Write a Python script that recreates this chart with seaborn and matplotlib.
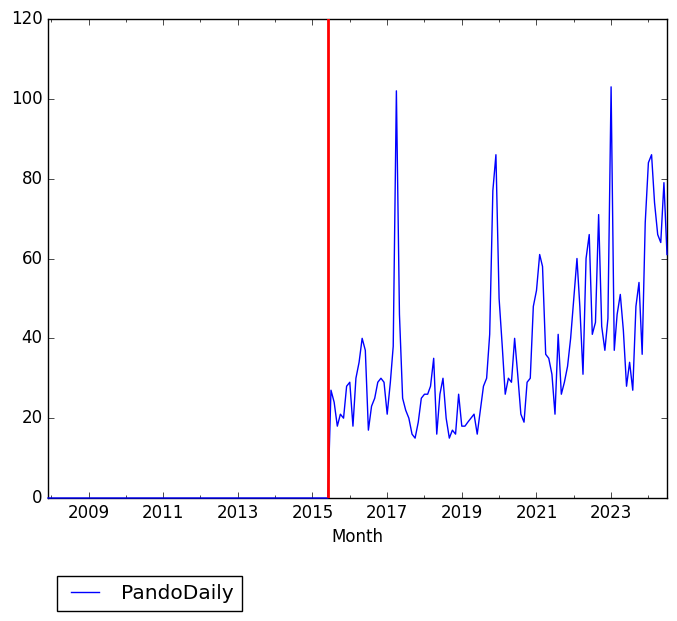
import matplotlib
matplotlib.use("Agg")
import matplotlib.pyplot as plt
import matplotlib.dates as mdates
import numpy as np
import pandas as pd
import seaborn as sns

plt.style.use("classic")

# ---- data ----
start_month = "2007-12-01"
first_active_month = "2015-07-01"
event_month = "2015-06-01"
series_name = "PandoDaily"

values_2015 = [27, 24, 18, 21, 20, 28]
values_2016 = [29, 18, 30, 34, 40, 37, 17, 23, 25, 29, 30, 29]
values_2017 = [21, 29, 38, 102, 46, 25, 22, 20, 16, 15, 19, 25]
values_2018 = [26, 26, 28, 35, 16, 26, 30, 20, 15, 17, 16, 26]
values_2019 = [18, 18, 19, 20, 21, 16, 22, 28, 30, 41, 77, 86]
values_2020 = [50, 38, 26, 30, 29, 40, 31, 21, 19, 29, 30, 48]
values_2021 = [52, 61, 58, 36, 35, 31, 21, 41, 26, 29, 33, 40]
values_2022 = [50, 60, 48, 31, 60, 66, 41, 44, 71, 43, 37, 45]
values_2023 = [103, 37, 46, 51, 42, 28, 34, 27, 48, 54, 36, 69]
values_2024 = [84, 86, 74, 66, 64, 79, 61]

major_years = [2009, 2011, 2013, 2015, 2017, 2019, 2021, 2023]
minor_years = list(range(2008, 2025))
y_ticks = [0, 20, 40, 60, 80, 100, 120]

# ---- build frame ----
active = (values_2015 + values_2016 + values_2017 + values_2018 + values_2019
          + values_2020 + values_2021 + values_2022 + values_2023 + values_2024)
zero_months = pd.date_range(start_month, pd.Timestamp(first_active_month) - pd.DateOffset(months=1), freq="MS")
active_months = pd.date_range(first_active_month, periods=len(active), freq="MS")
df = pd.DataFrame({
    "Month": list(zero_months) + list(active_months),
    "count": [0] * len(zero_months) + active,
})

fig = plt.figure(figsize=(6.77, 6.21), dpi=100, facecolor="white")
ax = fig.add_axes([48 / 677, 1 - 498 / 621, 619 / 677, 479 / 621])
ax.set_facecolor("white")

sns.lineplot(data=df, x="Month", y="count", ax=ax, color="b", linewidth=1,
             label=series_name, zorder=3, clip_on=False)
ax.axvline(pd.Timestamp(event_month), color="r", linewidth=2, zorder=4)

ax.set_xlim(df["Month"].min(), df["Month"].max())
ax.set_ylim(0, 120)
ax.set_yticks(y_ticks)
ax.set_xticks([pd.Timestamp(f"{y}-01-01") for y in major_years])
ax.set_xticks([pd.Timestamp(f"{y}-01-01") for y in minor_years], minor=True)
ax.xaxis.set_major_formatter(mdates.DateFormatter("%Y"))
ax.tick_params(labelsize=12)
ax.set_xlabel("Month", fontsize=12)
ax.set_ylabel("")

leg = ax.legend(loc="upper left", bbox_to_anchor=(0.0145, -0.163), borderaxespad=0,
                fontsize=14.5, frameon=True, fancybox=False)
leg.get_frame().set_edgecolor("black")

fig.savefig("out.png", dpi=100, facecolor="white")
